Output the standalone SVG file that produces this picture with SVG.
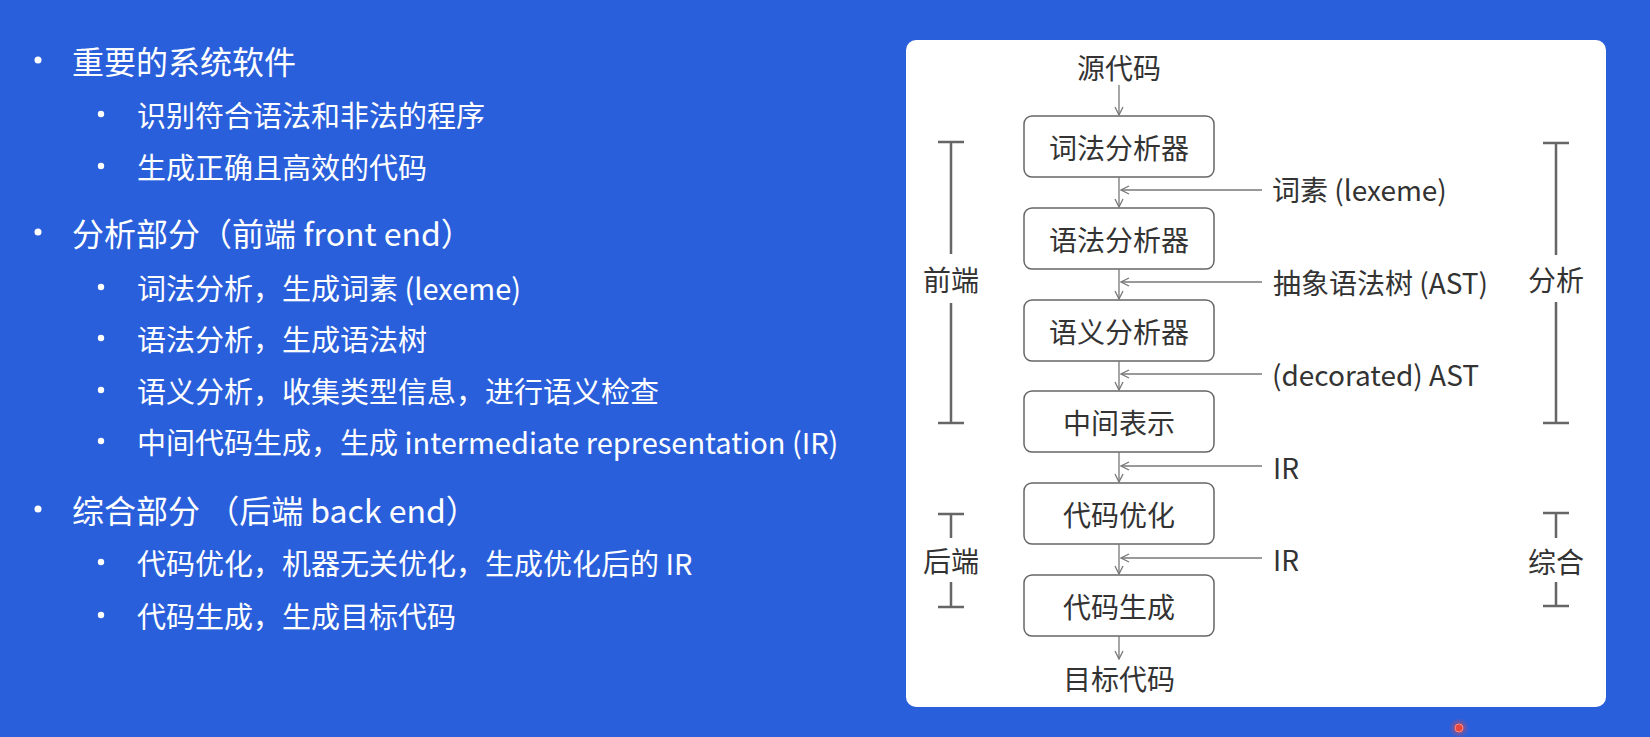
<svg xmlns="http://www.w3.org/2000/svg" width="1650" height="737" viewBox="0 0 1650 737">
<defs>
<style>
.lt{font-family:"Noto Sans CJK SC","Noto Sans",sans-serif;fill:#ffffff;dominant-baseline:central}
.l1{font-size:32px}
.l2{font-size:29px}
.bul{fill:#ffffff}
.dt{font-family:"Noto Sans CJK SC","Noto Sans",sans-serif;fill:#333333;font-size:28px;dominant-baseline:central}
.box{fill:#ffffff;stroke:#666666;stroke-width:1.5}
.arr{stroke:#777777;stroke-width:1.3;fill:none}
.brk{stroke:#666666;stroke-width:2.5;fill:none}
</style>
<marker id="ah" viewBox="0 0 10 10" refX="9" refY="5" markerWidth="10" markerHeight="10" markerUnits="userSpaceOnUse" orient="auto">
<path d="M1,1 L9,5 L1,9" fill="none" stroke="#777777" stroke-width="1.3"/>
</marker>
<radialGradient id="glow">
<stop offset="0.35" stop-color="#e8453c" stop-opacity="1"/>
<stop offset="1" stop-color="#e8453c" stop-opacity="0"/>
</radialGradient>
</defs>
<rect x="0" y="0" width="1650" height="737" fill="#2a5fdc"/>

<g id="left-text">
<circle class="bul" cx="38" cy="60" r="3.5"/>
<text class="lt l1" x="72" y="60">重要的系统软件</text>
<circle class="bul" cx="101" cy="114" r="3.2"/>
<text class="lt l2" x="137" y="114">识别符合语法和非法的程序</text>
<circle class="bul" cx="101" cy="166" r="3.2"/>
<text class="lt l2" x="137" y="166">生成正确且高效的代码</text>
<circle class="bul" cx="38" cy="232" r="3.5"/>
<text class="lt l1" x="72" y="232">分析部分（前端 front end）</text>
<circle class="bul" cx="101" cy="287" r="3.2"/>
<text class="lt l2" x="137" y="287">词法分析，生成词素 (lexeme)</text>
<circle class="bul" cx="101" cy="338" r="3.2"/>
<text class="lt l2" x="137" y="338">语法分析，生成语法树</text>
<circle class="bul" cx="101" cy="390" r="3.2"/>
<text class="lt l2" x="137" y="390">语义分析，收集类型信息，进行语义检查</text>
<circle class="bul" cx="101" cy="441" r="3.2"/>
<text class="lt l2" x="137" y="441">中间代码生成，生成 intermediate representation (IR)</text>
<circle class="bul" cx="38" cy="509" r="3.5"/>
<text class="lt l1" x="72" y="509">综合部分 （后端 back end）</text>
<circle class="bul" cx="101" cy="562" r="3.2"/>
<text class="lt l2" x="137" y="562">代码优化，机器无关优化，生成优化后的 IR</text>
<circle class="bul" cx="101" cy="615" r="3.2"/>
<text class="lt l2" x="137" y="615">代码生成，生成目标代码</text>
</g>

<rect id="panel" x="906" y="40" width="700" height="667" rx="10" fill="#ffffff"/>

<g id="src"><text class="dt" x="1119" y="67" text-anchor="middle">源代码</text></g>
<g id="n1"><rect class="box" x="1024" y="116" width="190" height="61" rx="8"/><text class="dt" x="1119" y="146.5" text-anchor="middle">词法分析器</text></g>
<g id="n2"><rect class="box" x="1024" y="208" width="190" height="61" rx="8"/><text class="dt" x="1119" y="238.5" text-anchor="middle">语法分析器</text></g>
<g id="n3"><rect class="box" x="1024" y="300" width="190" height="61" rx="8"/><text class="dt" x="1119" y="330.5" text-anchor="middle">语义分析器</text></g>
<g id="n4"><rect class="box" x="1024" y="391" width="190" height="61" rx="8"/><text class="dt" x="1119" y="421.5" text-anchor="middle">中间表示</text></g>
<g id="n5"><rect class="box" x="1024" y="483" width="190" height="61" rx="8"/><text class="dt" x="1119" y="513.5" text-anchor="middle">代码优化</text></g>
<g id="n6"><rect class="box" x="1024" y="575" width="190" height="61" rx="8"/><text class="dt" x="1119" y="605.5" text-anchor="middle">代码生成</text></g>
<g id="dst"><text class="dt" x="1119" y="678" text-anchor="middle">目标代码</text></g>

<g id="connectors">
<line class="arr" x1="1119" y1="85" x2="1119" y2="115" marker-end="url(#ah)"/>
<line class="arr" x1="1119" y1="177" x2="1119" y2="207" marker-end="url(#ah)"/>
<line class="arr" x1="1119" y1="269" x2="1119" y2="299" marker-end="url(#ah)"/>
<line class="arr" x1="1119" y1="361" x2="1119" y2="390" marker-end="url(#ah)"/>
<line class="arr" x1="1119" y1="452" x2="1119" y2="482" marker-end="url(#ah)"/>
<line class="arr" x1="1119" y1="544" x2="1119" y2="574" marker-end="url(#ah)"/>
<line class="arr" x1="1119" y1="636" x2="1119" y2="659" marker-end="url(#ah)"/>
<line class="arr" x1="1262" y1="190" x2="1121" y2="190" marker-end="url(#ah)"/>
<line class="arr" x1="1262" y1="282" x2="1121" y2="282" marker-end="url(#ah)"/>
<line class="arr" x1="1262" y1="374" x2="1121" y2="374" marker-end="url(#ah)"/>
<line class="arr" x1="1262" y1="466" x2="1121" y2="466" marker-end="url(#ah)"/>
<line class="arr" x1="1262" y1="558" x2="1121" y2="558" marker-end="url(#ah)"/>
</g>

<g id="side-labels">
<text class="dt" x="1272" y="189">词素 (lexeme)</text>
<text class="dt" x="1273" y="282">抽象语法树 (AST)</text>
<text class="dt" x="1272" y="374">(decorated) AST</text>
<text class="dt" x="1273" y="467">IR</text>
<text class="dt" x="1273" y="559">IR</text>
</g>

<g id="bracket-frontend">
<path class="brk" d="M938,142 H964 M951,142 V254 M951,303 V423 M938,423 H964"/>
<text class="dt" x="951" y="279" text-anchor="middle">前端</text>
</g>
<g id="bracket-backend">
<path class="brk" d="M938,514 H964 M951,514 V538 M951,582 V607 M938,607 H964"/>
<text class="dt" x="951" y="560" text-anchor="middle">后端</text>
</g>
<g id="bracket-analysis">
<path class="brk" d="M1543,143 H1569 M1556,143 V255 M1556,302 V423 M1543,423 H1569"/>
<text class="dt" x="1556" y="279" text-anchor="middle">分析</text>
</g>
<g id="bracket-synthesis">
<path class="brk" d="M1543,513 H1569 M1556,513 V538 M1556,582 V606 M1543,606 H1569"/>
<text class="dt" x="1556" y="561" text-anchor="middle">综合</text>
</g>

<g id="cursor-dot">
<circle cx="1459" cy="728" r="10" fill="url(#glow)" opacity="0.5"/>
<circle cx="1459" cy="728" r="4" fill="#e8453c" stroke="#ff8a80" stroke-width="1"/>
</g>
</svg>
